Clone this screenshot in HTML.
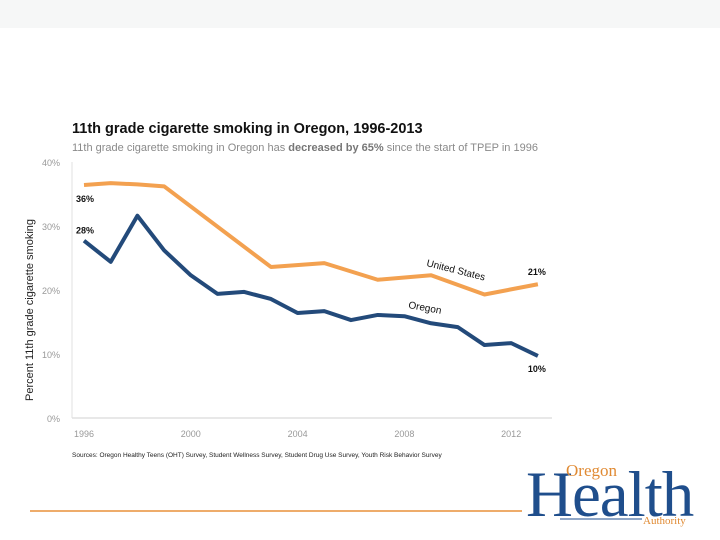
<!DOCTYPE html>
<html><head><meta charset="utf-8"><style>
html,body{margin:0;padding:0;background:#fff;}
body{width:720px;height:540px;overflow:hidden;position:relative;font-family:"Liberation Sans",sans-serif;}
</style></head><body>
<div style="position:absolute;left:0;top:0;width:720px;height:28px;background:#f6f7f7"></div>
<svg id="chart" width="720" height="540" style="position:absolute;left:0;top:0">
<text x="72" y="133" font-size="14.5" font-weight="bold" fill="#111">11th grade cigarette smoking in Oregon, 1996-2013</text>
<text x="72" y="151" font-size="11" fill="#8a8a8a">11th grade cigarette smoking in Oregon has <tspan font-weight="bold" fill="#777">decreased by 65%</tspan> since the start of TPEP in 1996</text>
<text transform="translate(33,310) rotate(-90)" text-anchor="middle" font-size="11" fill="#222">Percent 11th grade cigarette smoking</text>
<text x="72" y="457" font-size="6.5" fill="#222">Sources: Oregon Healthy Teens (OHT) Survey, Student Wellness Survey, Student Drug Use Survey, Youth Risk Behavior Survey</text>
<line x1="30" y1="511" x2="522" y2="511" stroke="#e8913a" stroke-width="1.5"/>
<g>
<text x="526" y="516" font-family="Liberation Serif,serif" font-size="65" fill="#1f4e8c" letter-spacing="-1">Health</text>
<text x="566" y="476" font-family="Liberation Serif,serif" font-size="17" fill="#e08a33">Oregon</text>
<text x="643" y="524" font-family="Liberation Serif,serif" font-size="11" fill="#e08a33">Authority</text>
<line x1="560" y1="519" x2="642" y2="519" stroke="#1f4e8c" stroke-width="1"/>
</g>
<g id="plot"></g>
</svg>
<script>
const yTicks=[0,10,20,30,40];
const xTicks=[1996,2000,2004,2008,2012];
const usYears=[1996,1997,1998,1999,2003,2005,2007,2009,2011,2013];
const usValues=[36.4,36.7,36.5,36.2,23.6,24.2,21.6,22.3,19.3,20.9];
const orYears=[1996,1997,1998,1999,2000,2001,2002,2003,2004,2005,2006,2007,2008,2009,2010,2011,2012,2013];
const orValues=[27.7,24.4,31.6,26.2,22.3,19.4,19.7,18.6,16.4,16.7,15.3,16.1,15.9,14.8,14.2,11.4,11.7,9.7];
const NS='http://www.w3.org/2000/svg';
const g=document.getElementById('plot');
const x=yr=>84+(yr-1996)*26.7;
const y=v=>418-v*6.4;
function mk(t,a){const e=document.createElementNS(NS,t);for(const k in a)e.setAttribute(k,a[k]);g.appendChild(e);return e;}
const ax=mk('line',{x1:72,y1:418,x2:552,y2:418,stroke:'#d0d0d0'});


const ay=mk('line',{x1:72,y1:162,x2:72,y2:418,stroke:'#e0e0e0'});


yTicks.forEach(v=>{const t=mk('text',{x:60,y:y(v)+4,'text-anchor':'end','font-size':9,fill:'#999'});t.textContent=v+'%';

});
xTicks.forEach(v=>{const t=mk('text',{x:x(v),y:437,'text-anchor':'middle','font-size':9,fill:'#999'});t.textContent=v;

});
function line(ys,vs,c,name){const p=mk('polyline',{points:ys.map((yr,i)=>x(yr)+','+y(vs[i])).join(' '),fill:'none',stroke:c,'stroke-width':4,'stroke-linejoin':'round'});

}
line(usYears,usValues,'#f3a150','us-line');
line(orYears,orValues,'#234a7a','oregon-line');
function lab(tx,px,py,name,rot){const t=mk('text',{x:px,y:py,'font-size':9,'font-weight':'bold',fill:'#111'});if(rot)t.setAttribute('transform',rot);t.textContent=tx;

}
lab(Math.round(usValues[0])+'%',x(usYears[0])-8,y(usValues[0])+17,'us-start-label');
lab(Math.round(orValues[0])+'%',x(orYears[0])-8,y(orValues[0])-7,'oregon-start-label');
lab(Math.round(usValues[usValues.length-1])+'%',x(2013)-10,y(usValues[usValues.length-1])-9,'us-end-label');
lab(Math.round(orValues[orValues.length-1])+'%',x(2013)-10,y(orValues[orValues.length-1])+16,'oregon-end-label');
const us=mk('text',{x:426,y:266,'font-size':10,fill:'#111',transform:'rotate(14 426 266)'});us.textContent='United States';


const or=mk('text',{x:408,y:308,'font-size':10,fill:'#111',transform:'rotate(10 408 308)'});or.textContent='Oregon';


</script>
</body></html>
